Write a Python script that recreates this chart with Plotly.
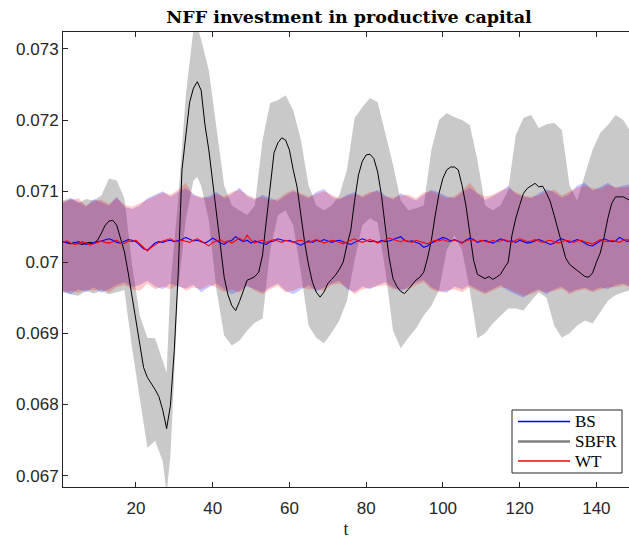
import plotly.graph_objects as go

# ---------------- data ----------------
t_mean = list(range(1, 151))

sbfr_mean = [
    0.07029, 0.07027, 0.07026, 0.07028, 0.07027, 0.07025, 0.07027, 0.07028, 0.07027, 0.07031,
    0.07041, 0.07052, 0.07058, 0.07059, 0.07052, 0.07034, 0.07015, 0.06985, 0.06951, 0.06923,
    0.06883, 0.06852, 0.06838, 0.06830, 0.06821, 0.06811, 0.06792, 0.06766, 0.06799, 0.06876,
    0.06982, 0.07130, 0.07182, 0.07225, 0.07245, 0.07254, 0.07242, 0.07193, 0.07158, 0.07111,
    0.07073, 0.07024, 0.06979, 0.06954, 0.06939, 0.06932, 0.06945, 0.06961, 0.06975, 0.06977,
    0.06980, 0.06986, 0.07010, 0.07059, 0.07108, 0.07154, 0.07168, 0.07175, 0.07172, 0.07158,
    0.07130, 0.07106, 0.07066, 0.07027, 0.06996, 0.06972, 0.06958, 0.06951, 0.06958, 0.06970,
    0.06976, 0.06982, 0.06990, 0.07000, 0.07024, 0.07045, 0.07087, 0.07123, 0.07142, 0.07151,
    0.07152, 0.07146, 0.07127, 0.07094, 0.07049, 0.07006, 0.06977, 0.06966, 0.06959, 0.06956,
    0.06962, 0.06968, 0.06975, 0.06979, 0.06986, 0.07006, 0.07031, 0.07066, 0.07097, 0.07118,
    0.07130, 0.07134, 0.07134, 0.07130, 0.07108, 0.07080, 0.07042, 0.07003, 0.06983, 0.06980,
    0.06977, 0.06980, 0.06976, 0.06979, 0.06983, 0.06992, 0.07000, 0.07038, 0.07062, 0.07080,
    0.07097, 0.07104, 0.07108, 0.07111, 0.07106, 0.07107, 0.07097, 0.07085, 0.07066, 0.07045,
    0.07024, 0.07006, 0.06997, 0.06993, 0.06989, 0.06985, 0.06980, 0.06979, 0.06985, 0.07000,
    0.07013, 0.07035, 0.07062, 0.07083, 0.07092, 0.07092, 0.07092, 0.07089, 0.07087, 0.07087,
]

bs_mean = [
    0.07029, 0.07028, 0.07026, 0.07027, 0.07029, 0.07027, 0.07025, 0.07026, 0.07028, 0.07029,
    0.07030, 0.07032, 0.07033, 0.07031, 0.07028, 0.07027, 0.07030, 0.07032, 0.07031, 0.07029,
    0.07024, 0.07019, 0.07017, 0.07022, 0.07027, 0.07029, 0.07028, 0.07030, 0.07031, 0.07029,
    0.07030, 0.07032, 0.07035, 0.07033, 0.07030, 0.07031, 0.07029, 0.07027, 0.07030, 0.07034,
    0.07031, 0.07027, 0.07025, 0.07029, 0.07031, 0.07036, 0.07032, 0.07029, 0.07031, 0.07027,
    0.07030, 0.07028, 0.07027, 0.07025, 0.07029, 0.07030, 0.07033, 0.07031, 0.07030, 0.07031,
    0.07029, 0.07026, 0.07024, 0.07027, 0.07030, 0.07028, 0.07031, 0.07029, 0.07032, 0.07030,
    0.07028, 0.07030, 0.07031, 0.07029, 0.07027, 0.07025, 0.07028, 0.07031, 0.07033, 0.07031,
    0.07029, 0.07030, 0.07028, 0.07031, 0.07029, 0.07030, 0.07032, 0.07034, 0.07036, 0.07031,
    0.07029, 0.07030, 0.07028, 0.07026, 0.07021, 0.07023, 0.07027, 0.07030, 0.07033, 0.07035,
    0.07033, 0.07030, 0.07032, 0.07029, 0.07027, 0.07031, 0.07034, 0.07032, 0.07028, 0.07030,
    0.07031, 0.07029, 0.07027, 0.07030, 0.07033, 0.07031, 0.07029, 0.07030, 0.07028, 0.07031,
    0.07029, 0.07027, 0.07028, 0.07030, 0.07032, 0.07030, 0.07028, 0.07025, 0.07027, 0.07031,
    0.07033, 0.07030, 0.07028, 0.07030, 0.07032, 0.07030, 0.07027, 0.07024, 0.07023, 0.07027,
    0.07030, 0.07033, 0.07031, 0.07029, 0.07030, 0.07035, 0.07032, 0.07029, 0.07033, 0.07034,
]

wt_mean = [
    0.07028, 0.07030, 0.07027, 0.07025, 0.07026, 0.07029, 0.07027, 0.07024, 0.07026, 0.07028,
    0.07030, 0.07028, 0.07027, 0.07029, 0.07031, 0.07027, 0.07026, 0.07030, 0.07029, 0.07031,
    0.07026, 0.07020, 0.07016, 0.07021, 0.07025, 0.07028, 0.07030, 0.07031, 0.07033, 0.07030,
    0.07029, 0.07031, 0.07030, 0.07028, 0.07031, 0.07033, 0.07030, 0.07026, 0.07023, 0.07028,
    0.07030, 0.07032, 0.07028, 0.07030, 0.07027, 0.07030, 0.07034, 0.07030, 0.07038, 0.07031,
    0.07027, 0.07030, 0.07031, 0.07028, 0.07030, 0.07032, 0.07030, 0.07028, 0.07031, 0.07030,
    0.07028, 0.07030, 0.07031, 0.07029, 0.07028, 0.07030, 0.07032, 0.07030, 0.07027, 0.07029,
    0.07031, 0.07030, 0.07028, 0.07026, 0.07029, 0.07031, 0.07033, 0.07030, 0.07028, 0.07030,
    0.07032, 0.07030, 0.07027, 0.07029, 0.07031, 0.07034, 0.07032, 0.07030, 0.07029, 0.07031,
    0.07030, 0.07028, 0.07031, 0.07029, 0.07027, 0.07026, 0.07029, 0.07031, 0.07030, 0.07032,
    0.07030, 0.07029, 0.07031, 0.07030, 0.07028, 0.07030, 0.07032, 0.07031, 0.07029, 0.07031,
    0.07030, 0.07028, 0.07031, 0.07029, 0.07030, 0.07032, 0.07030, 0.07028, 0.07031, 0.07033,
    0.07031, 0.07029, 0.07030, 0.07032, 0.07030, 0.07028, 0.07030, 0.07031, 0.07029, 0.07027,
    0.07029, 0.07031, 0.07030, 0.07028, 0.07030, 0.07031, 0.07029, 0.07027, 0.07026, 0.07029,
    0.07032, 0.07030, 0.07029, 0.07031, 0.07030, 0.07028, 0.07031, 0.07032, 0.07030, 0.07031,
]

# confidence bands for BS and WT, every second period
t_band = list(range(1, 150, 2))

bs_upper = [
    0.07083, 0.07090, 0.07086, 0.07078, 0.07089, 0.07084, 0.07080, 0.07092, 0.07078, 0.07075,
    0.07080, 0.07090, 0.07095, 0.07100, 0.07092, 0.07099, 0.07104, 0.07096, 0.07090, 0.07093,
    0.07099, 0.07090, 0.07096, 0.07105, 0.07093, 0.07088, 0.07095, 0.07090, 0.07086, 0.07094,
    0.07100, 0.07095, 0.07090, 0.07099, 0.07103, 0.07092, 0.07088, 0.07095, 0.07099, 0.07091,
    0.07096, 0.07102, 0.07094, 0.07088, 0.07097, 0.07092, 0.07087, 0.07095, 0.07102, 0.07098,
    0.07093, 0.07090, 0.07099, 0.07105, 0.07096, 0.07088, 0.07093, 0.07099, 0.07108, 0.07096,
    0.07092, 0.07090, 0.07097, 0.07103, 0.07098, 0.07091, 0.07096, 0.07108, 0.07112, 0.07101,
    0.07106, 0.07112, 0.07104, 0.07108, 0.07110,
]
bs_lower = [
    0.06960, 0.06955, 0.06962, 0.06958, 0.06965, 0.06957, 0.06962, 0.06968, 0.06972, 0.06965,
    0.06968, 0.06974, 0.06966, 0.06962, 0.06970, 0.06966, 0.06963, 0.06968, 0.06958, 0.06965,
    0.06970, 0.06962, 0.06955, 0.06960, 0.06966, 0.06962, 0.06958, 0.06965, 0.06970, 0.06960,
    0.06955, 0.06962, 0.06968, 0.06959, 0.06965, 0.06970, 0.06974, 0.06962, 0.06958, 0.06966,
    0.06962, 0.06968, 0.06972, 0.06965, 0.06959, 0.06966, 0.06972, 0.06975, 0.06965, 0.06960,
    0.06957, 0.06966, 0.06962, 0.06968, 0.06962, 0.06957, 0.06963, 0.06968, 0.06960, 0.06955,
    0.06950, 0.06958, 0.06962, 0.06955, 0.06962, 0.06966, 0.06958, 0.06962, 0.06964, 0.06960,
    0.06965, 0.06962, 0.06968, 0.06970, 0.06966,
]
wt_upper = [
    0.07085, 0.07088, 0.07090, 0.07080, 0.07086, 0.07088, 0.07082, 0.07090, 0.07081, 0.07078,
    0.07083, 0.07088, 0.07093, 0.07098, 0.07095, 0.07102, 0.07112, 0.07094, 0.07092, 0.07090,
    0.07096, 0.07093, 0.07099, 0.07102, 0.07095, 0.07090, 0.07092, 0.07087, 0.07089, 0.07097,
    0.07102, 0.07097, 0.07092, 0.07096, 0.07100, 0.07095, 0.07090, 0.07093, 0.07096, 0.07094,
    0.07099, 0.07100, 0.07092, 0.07091, 0.07094, 0.07095, 0.07090, 0.07098, 0.07100, 0.07095,
    0.07090, 0.07093, 0.07101, 0.07112, 0.07098, 0.07092, 0.07095, 0.07101, 0.07104, 0.07099,
    0.07094, 0.07092, 0.07094, 0.07100, 0.07102, 0.07094, 0.07099, 0.07105, 0.07108, 0.07104,
    0.07103, 0.07109, 0.07106, 0.07105, 0.07107,
]
wt_lower = [
    0.06958, 0.06960, 0.06957, 0.06962, 0.06960, 0.06962, 0.06958, 0.06965, 0.06968, 0.06962,
    0.06960, 0.06970, 0.06962, 0.06966, 0.06962, 0.06968, 0.06960, 0.06965, 0.06962, 0.06968,
    0.06965, 0.06958, 0.06962, 0.06957, 0.06968, 0.06960, 0.06955, 0.06962, 0.06967, 0.06958,
    0.06960, 0.06965, 0.06962, 0.06962, 0.06960, 0.06968, 0.06970, 0.06965, 0.06955, 0.06962,
    0.06965, 0.06966, 0.06968, 0.06962, 0.06962, 0.06962, 0.06968, 0.06972, 0.06962, 0.06958,
    0.06960, 0.06962, 0.06958, 0.06965, 0.06960, 0.06955, 0.06960, 0.06965, 0.06963, 0.06958,
    0.06953, 0.06955, 0.06960, 0.06958, 0.06960, 0.06963, 0.06955, 0.06960, 0.06962, 0.06958,
    0.06962, 0.06965, 0.06965, 0.06968, 0.06964,
]

# SBFR confidence band (extra points at the turning periods)
t_sbfr_band = [1, 3, 5, 7, 9, 11, 13, 15, 17, 19, 21, 23, 25, 27, 28, 29, 31, 33, 35, 36,
               37, 39, 41, 43, 45, 47, 49, 51, 53, 55, 57, 59, 61, 63, 65, 67, 69, 71, 73, 75,
               77, 79, 81, 83, 85, 87, 89, 91, 93, 95, 97, 99, 101, 103, 105, 107, 109, 111, 113, 115,
               117, 119, 121, 123, 125, 127, 129, 131, 133, 135, 137, 139, 141, 143, 145, 147, 149]
sbfr_upper = [
    0.07087, 0.07090, 0.07083, 0.07089, 0.07087, 0.07094, 0.07118, 0.07115, 0.07090, 0.06996,
    0.06925, 0.06894, 0.06893, 0.06862, 0.06845, 0.06968, 0.07087, 0.07235, 0.07328, 0.07332,
    0.07313, 0.07270, 0.07186, 0.07108, 0.07080, 0.07073, 0.07066, 0.07080, 0.07172, 0.07224,
    0.07228, 0.07235, 0.07214, 0.07172, 0.07108, 0.07080, 0.07073, 0.07080, 0.07094, 0.07130,
    0.07203, 0.07218, 0.07231, 0.07225, 0.07182, 0.07137, 0.07087, 0.07073, 0.07076, 0.07080,
    0.07158, 0.07200, 0.07210, 0.07204, 0.07200, 0.07193, 0.07144, 0.07080, 0.07073, 0.07080,
    0.07101, 0.07179, 0.07203, 0.07207, 0.07189, 0.07194, 0.07196, 0.07186, 0.07108, 0.07087,
    0.07123, 0.07158, 0.07182, 0.07193, 0.07207, 0.07200, 0.07183,
]
sbfr_lower = [
    0.06958, 0.06955, 0.06953, 0.06960, 0.06956, 0.06960, 0.06955, 0.06958, 0.06961, 0.06879,
    0.06806, 0.06739, 0.06749, 0.06720, 0.06675, 0.06728, 0.06961, 0.07060, 0.07115, 0.07120,
    0.07108, 0.07059, 0.06961, 0.06897, 0.06883, 0.06890, 0.06904, 0.06915, 0.06921, 0.07017,
    0.07066, 0.07073, 0.07052, 0.06985, 0.06911, 0.06894, 0.06886, 0.06901, 0.06918, 0.06946,
    0.07003, 0.07052, 0.07062, 0.07056, 0.06989, 0.06904, 0.06879, 0.06894, 0.06907, 0.06925,
    0.06939, 0.06961, 0.07017, 0.07038, 0.07017, 0.06961, 0.06893, 0.06900, 0.06914, 0.06924,
    0.06935, 0.06935, 0.06932, 0.06946, 0.06958, 0.06950, 0.06911, 0.06894, 0.06900, 0.06911,
    0.06918, 0.06914, 0.06930, 0.06946, 0.06954, 0.06958, 0.06961,
]

series_names = ["BS", "SBFR", "WT"]
legend_line_colors = ["rgb(0,0,255)", "rgb(128,128,128)", "rgb(255,0,0)"]
legend_line_widths = [1.5, 2.5, 1.5]

y_ticks = [0.067, 0.068, 0.069, 0.07, 0.071, 0.072, 0.073]
y_tick_text = ["0.067", "0.068", "0.069", "0.07", "0.071", "0.072", "0.073"]
x_ticks = [20, 40, 60, 80, 100, 120, 140]

# ---------------- figure ----------------
W, H = 629, 539
M_L, M_R, M_T, M_B = 63, 0, 32, 52
PLOT_W = W - M_L - M_R
PLOT_H = H - M_T - M_B

fig = go.Figure()


def band(t, lo, hi, fill):
    return go.Scatter(
        x=list(t) + list(t)[::-1],
        y=list(hi) + list(lo)[::-1],
        fill="toself", fillcolor=fill, mode="lines",
        line=dict(width=0), hoverinfo="skip", showlegend=False,
    )


fig.add_trace(band(t_sbfr_band, sbfr_lower, sbfr_upper, "rgb(201,201,201)"))
fig.add_trace(band(t_band, bs_lower, bs_upper, "rgba(0,0,255,0.21)"))
fig.add_trace(band(t_band, wt_lower, wt_upper, "rgba(255,0,0,0.21)"))

fig.add_trace(go.Scatter(x=t_mean, y=sbfr_mean, mode="lines", name="SBFR",
                         line=dict(color="black", width=1), showlegend=False))
fig.add_trace(go.Scatter(x=t_mean, y=bs_mean, mode="lines", name="BS",
                         line=dict(color="rgb(0,0,255)", width=1.1), showlegend=False))
fig.add_trace(go.Scatter(x=t_mean, y=wt_mean, mode="lines", name="WT",
                         line=dict(color="rgb(255,0,0)", width=1.1), showlegend=False))


# legend box drawn in paper coordinates (pixel offsets inside the plot area)
def px_x(px):
    return (px - M_L) / PLOT_W


def px_y(py):
    return (H - M_B - py) / PLOT_H


shapes = [dict(type="rect", xref="paper", yref="paper",
               x0=px_x(512), x1=px_x(622), y0=px_y(473), y1=px_y(410),
               line=dict(color="#262626", width=1), fillcolor="white", layer="above")]
annotations = []
row_y = [421.5, 441.5, 461]
for name, col, lw, ry in zip(series_names, legend_line_colors, legend_line_widths, row_y):
    shapes.append(dict(type="line", xref="paper", yref="paper",
                       x0=px_x(518), x1=px_x(570), y0=px_y(ry), y1=px_y(ry),
                       line=dict(color=col, width=lw), layer="above"))
    annotations.append(dict(text=name, xref="paper", yref="paper",
                            x=px_x(573), y=px_y(ry), xanchor="left", yanchor="middle",
                            showarrow=False,
                            font=dict(family="Liberation Serif", size=17, color="black")))

axis_color = "#262626"
fig.update_layout(
    width=W, height=H,
    margin=dict(l=M_L, r=M_R, t=M_T, b=M_B),
    paper_bgcolor="white", plot_bgcolor="white",
    showlegend=False,
    shapes=shapes, annotations=annotations,
    title=dict(
        text="NFF investment in productive capital",
        font=dict(family="DejaVu Serif", size=17.5, color="black", weight="bold"),
        x=349 / W, xref="container", xanchor="center",
        y=1 - 17 / H, yref="container", yanchor="middle",
    ),
    xaxis=dict(
        range=[1, 148.5], tickvals=x_ticks,
        ticks="inside", ticklen=5, tickwidth=1, tickcolor=axis_color,
        showline=True, linecolor=axis_color, linewidth=1, mirror="ticks",
        showgrid=False, zeroline=False,
        tickfont=dict(family="Liberation Sans", size=17, color=axis_color),
        ticklabelstandoff=6,
        title=dict(text="t", font=dict(family="Liberation Serif", size=18, color=axis_color),
                   standoff=4),
    ),
    yaxis=dict(
        range=[0.066839, 0.073239], tickvals=y_ticks, ticktext=y_tick_text,
        ticks="inside", ticklen=5, tickwidth=1, tickcolor=axis_color,
        showline=True, linecolor=axis_color, linewidth=1, mirror=False,
        showgrid=False, zeroline=False,
        tickfont=dict(family="Liberation Sans", size=17, color=axis_color),
    ),
)

fig.write_html("out.html")
